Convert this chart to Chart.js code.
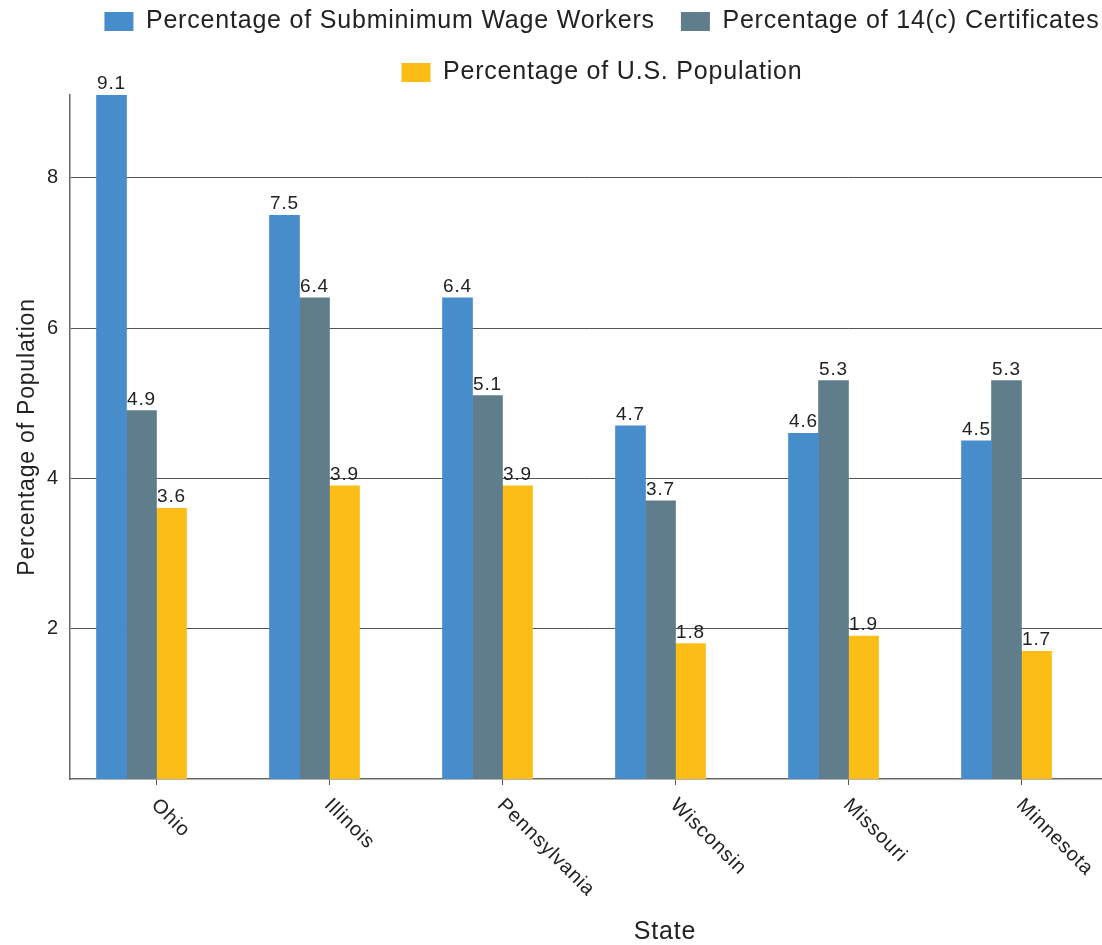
<!DOCTYPE html>
<html>
<head>
<meta charset="utf-8">
<script src="https://cdn.jsdelivr.net/npm/chart.js@4.4.1/dist/chart.umd.min.js"></script>
<style>
  html, body { margin: 0; padding: 0; background: #fff; overflow: hidden; }
  /* the original chart is wider than the window and a bit cropped at the top */
  #wrap { position: absolute; left: 0; top: -17px; width: 1204px; height: 962px; }
</style>
</head>
<body>
<div id="wrap"><canvas id="stateChart"></canvas></div>
<script>
// data
const states = ['Ohio', 'Illinois', 'Pennsylvania', 'Wisconsin', 'Missouri', 'Minnesota'];
const workers = [9.1, 7.5, 6.4, 4.7, 4.6, 4.5];
const certificates = [4.9, 6.4, 5.1, 3.7, 5.3, 5.3];
const population = [3.6, 3.9, 3.9, 1.8, 1.9, 1.7];
const yTicks = [2, 4, 6, 8];
const yMax = 9.1;

const FONT = '"Liberation Sans", Arial, Helvetica, sans-serif';
const textColor = '#222';
Chart.defaults.font.family = FONT;
Chart.defaults.color = textColor;

// the reference text is a little wider than plain Arial
const spacing = {
  id: 'spacing',
  beforeUpdate(chart) { chart.ctx.letterSpacing = '0.8px'; },
  beforeDraw(chart) { chart.ctx.letterSpacing = '0.8px'; }
};

// value above each bar
const barValues = {
  id: 'barValues',
  afterDatasetsDraw(chart) {
    const ctx = chart.ctx;
    ctx.save();
    ctx.font = '19px ' + FONT;
    ctx.fillStyle = textColor;
    ctx.textAlign = 'center';
    ctx.textBaseline = 'alphabetic';
    for (let d = 0; d < 3; d++) {
      const vals = chart.data.datasets[d].data;
      chart.getDatasetMeta(d).data.forEach((bar, i) => {
        ctx.fillText(vals[i].toFixed(1), bar.x, bar.y - 6);
      });
    }
    ctx.restore();
  }
};

// slanted state names and the x title
const stateLabels = {
  id: 'stateLabels',
  afterDraw(chart) {
    const {ctx, chartArea} = chart;
    const x = chart.scales.x;
    ctx.save();
    ctx.fillStyle = textColor;
    ctx.font = '20px ' + FONT;
    ctx.textAlign = 'left';
    ctx.textBaseline = 'middle';
    states.forEach((name, i) => {
      ctx.save();
      ctx.translate(x.getPixelForValue(i) - 2, chartArea.bottom + 23);
      ctx.rotate(Math.PI / 4);
      ctx.fillText(name, 0, 0);
      ctx.restore();
    });
    ctx.font = '25px ' + FONT;
    ctx.textAlign = 'center';
    ctx.fillText('State', 665, chart.height - 13);
    ctx.restore();
  }
};

const chart = new Chart(document.getElementById('stateChart'), {
  type: 'bar',
  data: {
    labels: states,
    datasets: [
      { label: 'Percentage of Subminimum Wage Workers', data: workers, backgroundColor: '#478ccb' },
      { label: 'Percentage of 14(c) Certificates', data: certificates, backgroundColor: '#607d8b' },
      { label: 'Percentage of U.S. Population', data: population, backgroundColor: '#fbbd16' },
      // empty slot so the tick sits between the grey and yellow bars
      { label: '', data: [], backgroundColor: 'transparent' }
    ]
  },
  options: {
    responsive: true,
    maintainAspectRatio: false,
    animation: false,
    events: [],
    datasets: { bar: { barThickness: 30, borderWidth: 0 } },
    plugins: {
      legend: {
        position: 'top',
        labels: {
          boxWidth: 29,
          boxHeight: 19,
          padding: 26,
          color: textColor,
          font: { size: 25 },
          filter: item => item.datasetIndex < 3
        }
      },
      tooltip: { enabled: false }
    },
    scales: {
      x: {
        grid: { display: true, drawOnChartArea: false, drawTicks: true, tickLength: 6, offset: false, color: '#555' },
        border: { display: true, color: '#666', width: 1.5 },
        ticks: { display: false },
        afterFit: s => { s.height = 166; }
      },
      y: {
        min: 0,
        max: yMax,
        afterBuildTicks: s => { s.ticks = yTicks.map(v => ({ value: v })); },
        grid: { color: '#555', lineWidth: 1, drawTicks: false },
        border: { display: true, color: '#666', width: 1.5 },
        ticks: { padding: 11, color: textColor, font: { size: 20 } },
        title: {
          display: true,
          text: 'Percentage of Population',
          color: textColor,
          font: { size: 23 },
          padding: { top: 14, bottom: 0 }
        },
        afterFit: s => { s.width = 70; }
      },
      yRight: {
        position: 'right',
        display: true,
        grid: { display: false },
        border: { display: false },
        ticks: { display: false },
        afterFit: s => { s.width = 96; }
      }
    }
  },
  plugins: [spacing, barValues, stateLabels]
});
</script>
</body>
</html>
